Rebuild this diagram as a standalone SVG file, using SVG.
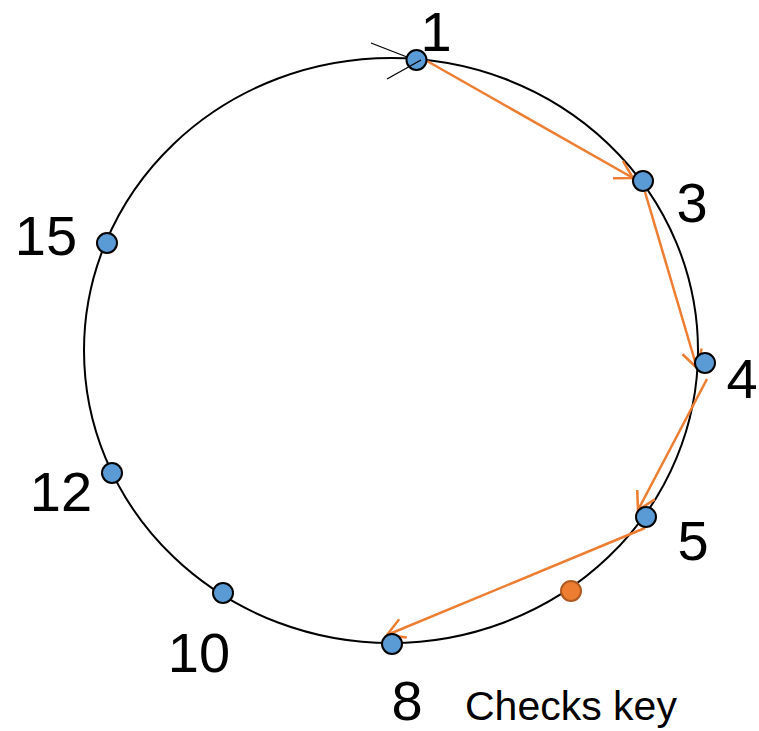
<svg xmlns="http://www.w3.org/2000/svg" width="759" height="731" viewBox="0 0 759 731">
<style>
.lbl{font-family:"Liberation Sans",Arial,sans-serif;font-size:56px;fill:#000;text-anchor:middle}
.key{font-family:"Liberation Sans",Arial,sans-serif;font-size:41px;fill:#000}
.node{fill:#5B9BD5;stroke:#000;stroke-width:2}
.onode{fill:#ED7D31;stroke:#AE5A21;stroke-width:2}
.arr{stroke:#ED7D31;stroke-width:2.5;fill:none;marker-end:url(#ah)}
</style>
<defs>
<marker id="ah" markerUnits="userSpaceOnUse" markerWidth="40" markerHeight="40" refX="0" refY="0" orient="auto" viewBox="-25 -20 40 40" overflow="visible">
<path d="M-17.3,-10 L0,0 L-17.3,10" fill="none" stroke="#ED7D31" stroke-width="2.5"/>
</marker>
</defs>
<g id="ring">
<ellipse cx="391" cy="350.5" rx="307" ry="292.5" fill="none" stroke="#000" stroke-width="2"/>
<line x1="371" y1="43" x2="407" y2="57" stroke="#000" stroke-width="1.3"/>
</g>
<g id="connectors">
<line class="arr" x1="427" y1="61" x2="633" y2="178"/>
<line class="arr" x1="645" y1="192" x2="697" y2="368"/>
<line class="arr" x1="707" y1="379" x2="638" y2="510"/>
<line class="arr" x1="645" y1="528" x2="387" y2="635"/>
</g>
<g id="n1"><circle class="node" cx="416.5" cy="60" r="10"/><line x1="387" y1="79" x2="421" y2="60" stroke="#000" stroke-width="1.3"/><text class="lbl" x="436" y="51">1</text></g>
<g id="n3"><circle class="node" cx="643" cy="181" r="10"/><text class="lbl" x="692" y="222">3</text></g>
<g id="n4"><circle class="node" cx="705" cy="363" r="10"/><text class="lbl" x="742" y="398">4</text></g>
<g id="n5"><circle class="node" cx="646" cy="517" r="10"/><text class="lbl" x="693" y="560">5</text></g>
<g id="key"><circle class="onode" cx="571" cy="591" r="10"/></g>
<g id="n8"><circle class="node" cx="392" cy="644" r="10"/><text class="lbl" x="407" y="720">8</text></g>
<g id="n10"><circle class="node" cx="223" cy="593" r="10"/><text class="lbl" x="199" y="672">10</text></g>
<g id="n12"><circle class="node" cx="112" cy="473" r="10"/><text class="lbl" x="61" y="511">12</text></g>
<g id="n15"><circle class="node" cx="107" cy="243" r="10"/><text class="lbl" x="46" y="255">15</text></g>
<text class="key" x="465" y="720">Checks key</text>
</svg>
